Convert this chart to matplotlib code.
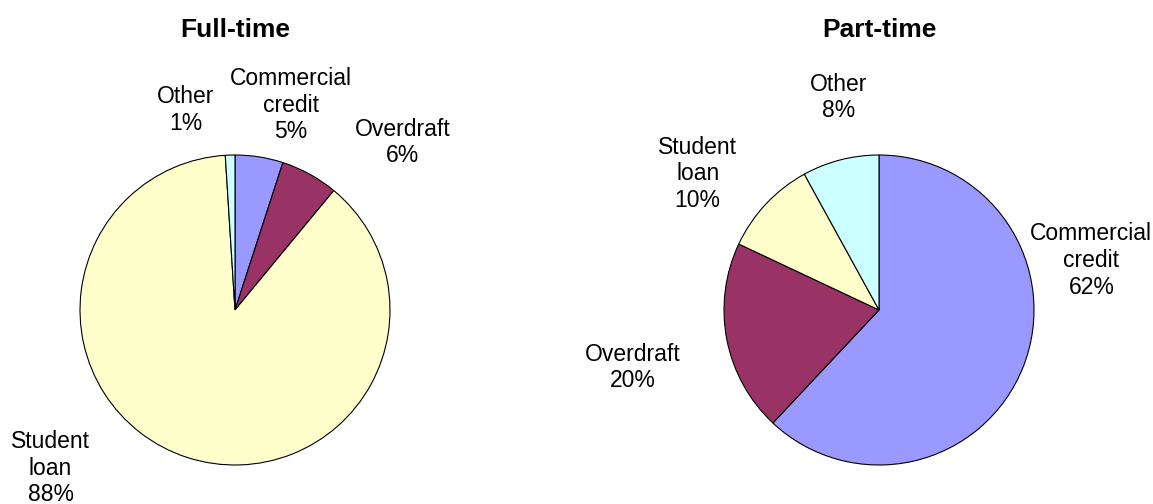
import matplotlib
matplotlib.use("Agg")
import matplotlib.pyplot as plt

plt.rcParams['font.family'] = ['Liberation Sans', 'DejaVu Sans']

categories = ['Commercial credit', 'Overdraft', 'Student loan', 'Other']
label_names = ['Commercial\ncredit', 'Overdraft', 'Student\nloan', 'Other']
full_time = [5, 6, 88, 1]
part_time = [62, 20, 10, 8]
colors = ['#9999FF', '#993366', '#FFFFCC', '#CCFFFF']

W, H = 1153, 504
# label placement (in pie radii) per panel, same order as categories
full_pos = [(0.36, 1.32), (1.08, 1.08), (-1.19, -1.02), (-0.32, 1.29)]
part_pos = [(1.37, 0.32), (-1.59, -0.37), (-1.17, 0.88), (-0.26, 1.37)]

fig = plt.figure(figsize=(W / 100, H / 100), dpi=100)
fig.patch.set_facecolor('white')


def draw_pie(cx, cy, r, values, positions, title):
    ax = fig.add_axes([(cx - r) / W, (H - cy - r) / H, 2 * r / W, 2 * r / H])
    ax.pie(values, colors=colors, startangle=90, counterclock=False,
           radius=1, wedgeprops=dict(edgecolor='black', linewidth=0.8))
    ax.set_aspect('auto')
    ax.set_xlim(-1, 1)
    ax.set_ylim(-1, 1)
    ax.axis('off')
    for name, v, (x, y) in zip(label_names, values, positions):
        ax.text(x, y, f'{name}\n{v}%', ha='center', va='center',
                fontsize=16.5, linespacing=1.2, clip_on=False)
    fig.text(cx / W, 1 - 30 / H, title, ha='center', va='center',
             fontsize=19, fontweight='bold')


draw_pie(235, 310, 155, full_time, full_pos, 'Full-time')
draw_pie(879, 310, 155, part_time, part_pos, 'Part-time')

fig.savefig('out.png', dpi=100)
